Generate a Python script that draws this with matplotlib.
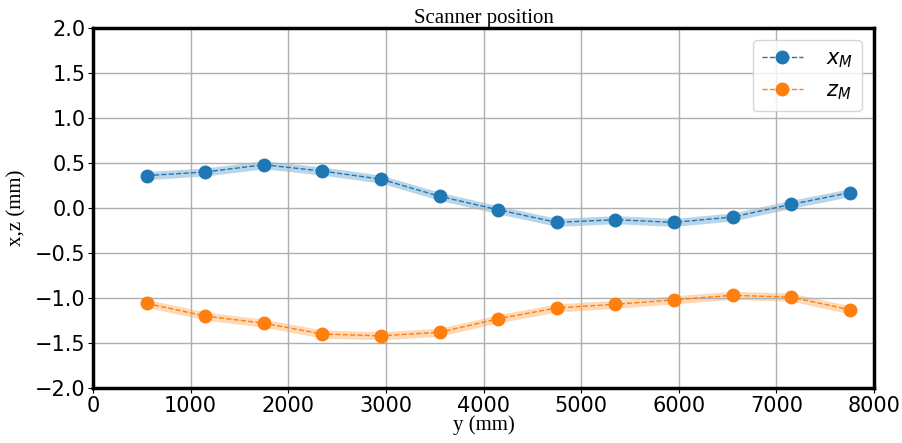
import matplotlib
matplotlib.use('Agg')
import matplotlib.pyplot as plt
import numpy as np

# scanner positions along y (mm)
y_pos = [550, 1150, 1750, 2350, 2950, 3550, 4150, 4750, 5350, 5950, 6550, 7150, 7750]
x_m = [0.36, 0.40, 0.48, 0.41, 0.32, 0.13, -0.02, -0.16, -0.13, -0.16, -0.10, 0.04, 0.17]
z_m = [-1.06, -1.20, -1.28, -1.40, -1.42, -1.38, -1.23, -1.11, -1.07, -1.02, -0.97, -0.99, -1.13]
x_err = [0.045] * len(y_pos)
z_err = [0.045] * len(y_pos)

SERIF = 'Liberation Serif'

fig, ax = plt.subplots(figsize=(9.03, 4.43), dpi=100)

for vals, err, col, lab in [
    (x_m, x_err, 'C0', '$x_M$'),
    (z_m, z_err, 'C1', '$z_M$'),
]:
    v = np.array(vals)
    e = np.array(err)
    ax.fill_between(y_pos, v - e, v + e, color=col, alpha=0.3, linewidth=0)
    ax.plot(y_pos, v, linestyle='--', linewidth=1, marker='o',
            markersize=9, color=col, label=lab)

ax.set_xlim(0, 8000)
ax.set_ylim(-2, 2)
ax.set_yticks(np.arange(-2, 2.01, 0.5))
ax.grid(True, color='#b0b0b0', linewidth=1)
ax.tick_params(labelsize=15, pad=2)
for s in ax.spines.values():
    s.set_linewidth(2.5)

ax.set_title('Scanner position', family=SERIF, fontsize=15, pad=3)
ax.set_xlabel('y (mm)', family=SERIF, fontsize=15, labelpad=0)
ax.set_ylabel('x,z (mm)', family=SERIF, fontsize=15, labelpad=6)
ax.legend(loc='upper right', fontsize=15, handlelength=2.0,
          handletextpad=1.1, borderaxespad=0.6)

fig.subplots_adjust(left=0.103, right=0.968, top=0.937, bottom=0.124)
fig.savefig('out.png', dpi=100)
